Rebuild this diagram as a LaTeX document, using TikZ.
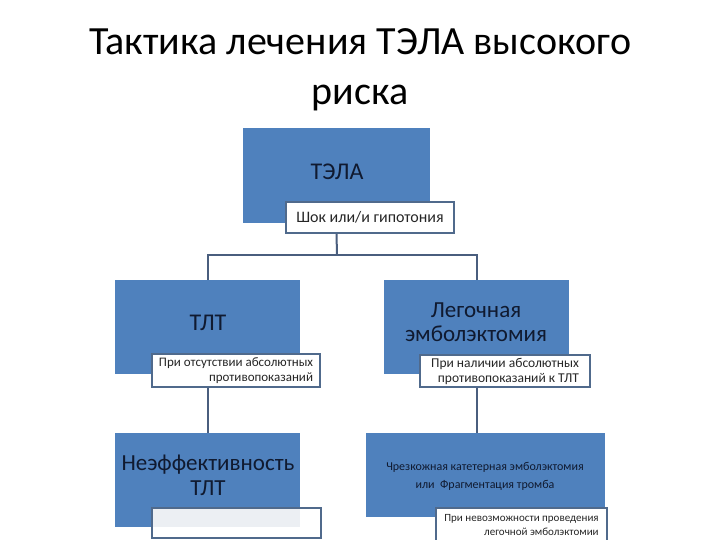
\documentclass[tikz,border=0pt]{standalone}
\usepackage{fontspec}
\setmainfont{Carlito}
\definecolor{boxblue}{HTML}{4F81BD}
\definecolor{boxtext}{HTML}{101A30}
\definecolor{labline}{HTML}{506A8C}
\definecolor{conn}{HTML}{4A5E7E}
\definecolor{labfill}{HTML}{ECEFF3}
\tikzset{
  bluebox/.style={rectangle, fill=boxblue, text=boxtext, inner sep=0pt, align=center},
  labbox/.style={rectangle, draw=labline, line width=1.5pt, fill=white, inner sep=2pt, align=right, text=black!85},
  connline/.style={draw=conn, line width=2pt}
}
\begin{document}
\begin{tikzpicture}[x=1pt,y=-1pt]
\useasboundingbox (0,0) rectangle (720,540);
% title
\node[font=\fontsize{40}{50}\selectfont, align=center] (title) at (360,70) {Тактика лечения ТЭЛА высокого\\риска};
% boxes
\node[bluebox, minimum width=187pt, minimum height=95pt] (tela) at (336.5,175.5) {};
\node[font=\fontsize{24}{28}\selectfont, text=boxtext] (telat) at (337,172) {ТЭЛА};
\node[labbox, minimum width=168pt, minimum height=31pt, font=\fontsize{16}{18}\selectfont, align=center, inner sep=1pt] (shok) at (370,217.5) {Шок или/и гипотония};

\node[bluebox, minimum width=185pt, minimum height=94pt] (tlt) at (207.5,327) {};
\node[font=\fontsize{24}{28}\selectfont, text=boxtext] (tltt) at (208,323) {ТЛТ};
\node[labbox, minimum width=168pt, minimum height=33pt, font=\fontsize{13}{15}\selectfont, inner sep=1pt] (tltlab) at (236,370.5) {При отсутствии абсолютных\\противопоказаний};

\node[bluebox, minimum width=185pt, minimum height=94pt] (leg) at (476.5,327) {};
\node[font=\fontsize{23}{24}\selectfont, text=boxtext, align=center] (legt) at (476,322) {Легочная\\эмболэктомия};
\node[labbox, minimum width=170pt, minimum height=32pt, font=\fontsize{13.5}{15}\selectfont, inner sep=1pt] (leglab) at (505,371) {При наличии абсолютных\\противопоказаний к ТЛТ};

\node[bluebox, minimum width=185pt, minimum height=94pt] (neff) at (207.5,480) {};
\node[font=\fontsize{23}{25}\selectfont, text=boxtext, align=center] (nefft) at (208,475.5) {Неэффективность\\ТЛТ};
\node[labbox, minimum width=169pt, minimum height=30pt] (nefflab) at (236.5,523) {};
\fill[labfill] (153,509) rectangle (300,527);

\node[bluebox, minimum width=239pt, minimum height=84pt] (perc) at (485.5,475) {};
\node[font=\fontsize{12}{18}\selectfont, text=boxtext, align=center] (perct) at (485,476) {Чрезкожная катетерная эмболэктомия\\или \ Фрагментация тромба};
\node[labbox, minimum width=171pt, minimum height=34pt, font=\fontsize{11}{14}\selectfont, inner sep=1pt] (perclab) at (521.5,525) {При невозможности проведения\\легочной эмболэктомии};

% connectors
\coordinate (j) at (337,255);
\draw[connline] (tela |- shok.south) -- (j);
\draw[connline] (tlt.north) -- (tlt |- j) -- (leg |- j) -- (leg.north);
\draw[connline] (tlt |- tltlab.south) -- (neff.north);
\draw[connline] (leg |- leglab.south) -- (leg |- perc.north);
\end{tikzpicture}
\end{document}
